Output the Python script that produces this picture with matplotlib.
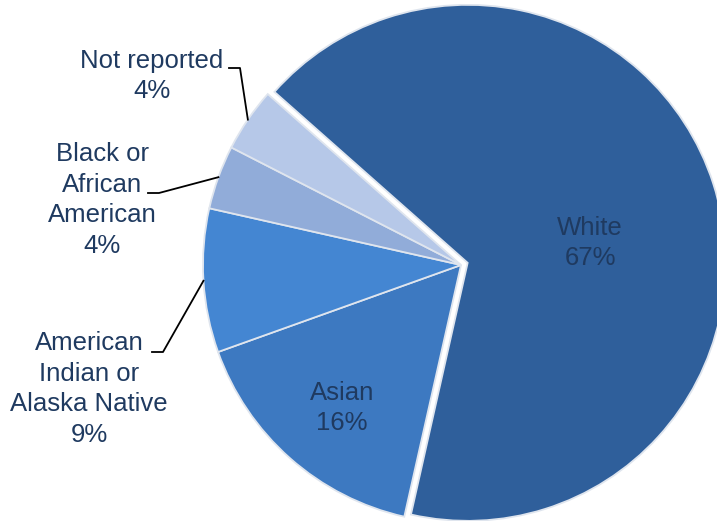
import numpy as np
import matplotlib.pyplot as plt

plt.rcParams['font.family'] = ['Liberation Sans', 'DejaVu Sans']

# data
labels = ["White", "Asian", "American\nIndian or\nAlaska Native", "Black or\nAfrican\nAmerican", "Not reported"]
shares = [67, 16, 9, 4, 4]
colors = ["#2f5f9b", "#3d79c1", "#4486d2", "#91acd9", "#b6c8e8"]

W, H = 717, 521
txt_color = "#1f3a60"

fig = plt.figure(figsize=(W / 100, H / 100), dpi=100)
ax = fig.add_axes([0, 0, 1, 1])

# pie in pixel coordinates (y measured upwards); explode is in data units here
cx, cy, r = 461, H - 265, 258
wedges, _ = ax.pie(shares, colors=colors, startangle=138.5, counterclock=False,
                   center=(cx, cy), radius=r, explode=[7, 0, 0, 0, 0],
                   wedgeprops=dict(edgecolor="#dfe5ee", linewidth=1.3))
ax.set_xlim(0, W)
ax.set_ylim(0, H)
ax.set_aspect("equal")
ax.axis("off")

def lab(i):
    return labels[i] + "\n" + str(shares[i]) + "%"

# labels inside
ax.text(590, H - 243, lab(0), ha="center", va="center", fontsize=18.5,
        color=txt_color, linespacing=1.35)
ax.text(342, H - 408, lab(1), ha="center", va="center", fontsize=18.5,
        color=txt_color, linespacing=1.35)

# labels outside with leader lines
outside = {2: (89, 389, 152, 352), 3: (102, 200, 148, 193), 4: (152, 76, 229, 68)}
for i, (tx, ty, lx, ly) in outside.items():
    ax.text(tx, H - ty, lab(i), ha="center", va="center", fontsize=18.5,
            color=txt_color, linespacing=1.35)
    w = wedges[i]
    mid = np.deg2rad((w.theta1 + w.theta2) / 2)
    ex = cx + r * np.cos(mid)
    ey = cy + r * np.sin(mid)
    ax.plot([lx, lx + 11, ex], [H - ly, H - ly, ey], color="black", lw=1.3)

plt.savefig("out.png", dpi=100)
